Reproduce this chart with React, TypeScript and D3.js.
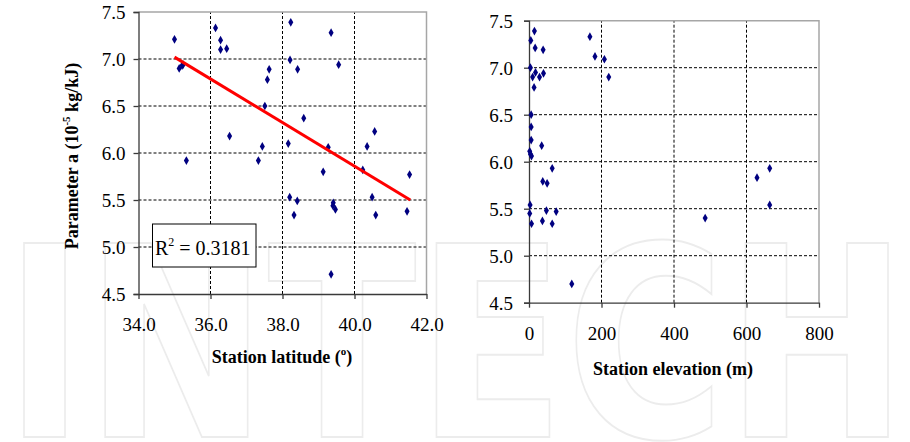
import React, { useEffect, useRef } from 'react';
import * as d3 from 'd3';

// Left panel: station latitude (deg) vs parameter a
const latitude = [
  35.0, 35.13, 35.21, 35.24, 35.33, 36.14, 36.28, 36.28, 36.45, 36.53,
  37.33, 37.44, 37.51, 37.58, 37.63, 38.16, 38.2, 38.21, 38.23, 38.32,
  38.41, 38.42, 38.59, 39.13, 39.27, 39.35, 39.35, 39.41, 39.4, 39.47,
  39.56, 40.23, 40.35, 40.49, 40.56, 40.59, 41.46, 41.53,
];
const paramLat = [
  7.21, 6.9, 6.93, 6.94, 5.92, 7.33, 7.2, 7.1, 7.11, 6.18,
  5.92, 6.07, 6.5, 6.78, 6.89, 6.1, 5.53, 6.99, 7.39, 5.34,
  5.49, 6.89, 6.37, 5.8, 6.06, 7.28, 4.71, 5.47, 5.44, 5.4,
  6.94, 5.82, 6.07, 5.53, 6.23, 5.34, 5.38, 5.77,
];
// fitted trend line (start / end)
const trendLat = [35.0, 41.55];
const trendParam = [7.02, 5.5];
const rSquared = '0.3181';

// Right panel: station elevation (m) vs parameter a
const elevation = [
  5, 15, 17, 39, 4, 18, 10, 29, 40, 14,
  6, 6, 6, 35, 2, 4, 7, 64, 38, 50,
  3, 2, 7, 37, 48, 64, 75, 118, 168, 182,
  208, 220, 486, 629, 664, 664,
];
const paramElev = [
  7.29, 7.39, 7.21, 7.19, 7.0, 6.95, 6.9, 6.9, 6.94, 6.79,
  6.5, 6.37, 6.23, 6.17, 6.11, 6.08, 6.06, 5.93, 5.79, 5.77,
  5.54, 5.45, 5.34, 5.37, 5.48, 5.34, 5.47, 4.7, 7.33, 7.12,
  7.09, 6.9, 5.4, 5.83, 5.93, 5.54,
];

const yTicks = [4.5, 5.0, 5.5, 6.0, 6.5, 7.0, 7.5];
const latTicks = [34, 36, 38, 40, 42];
const elevTicks = [0, 200, 400, 600, 800];

const W = 910;
const H = 442;
const serif = '"Liberation Serif", "Times New Roman", serif';

export default function App() {
  const ref = useRef<SVGSVGElement>(null);

  useEffect(() => {
    const svg = d3.select(ref.current);
    svg.selectAll('*').remove();

    // faint watermark
    svg
      .append('text')
      .attr('x', 4)
      .attr('y', 437)
      .attr('textLength', 904)
      .attr('lengthAdjust', 'spacingAndGlyphs')
      .style('font-family', '"DejaVu Sans", sans-serif')
      .style('font-weight', 'bold')
      .style('font-size', '266px')
      .attr('fill', 'none')
      .attr('stroke', '#ececec')
      .attr('stroke-width', 2)
      .text('INTECH');

    const drawPanel = (
      xs: number[],
      ys: number[],
      xDomain: [number, number],
      xRange: [number, number],
      yRange: [number, number],
      xTicks: number[],
      xFmt: (n: number) => string,
      yPad: number,
      xLabelOffset: number
    ) => {
      const x = d3.scaleLinear().domain(xDomain).range(xRange);
      const y = d3.scaleLinear().domain([4.5, 7.5]).range(yRange);
      const g = svg.append('g');

      // grid
      g.append('g')
        .selectAll('line')
        .data(yTicks.slice(1, -1))
        .join('line')
        .attr('x1', xRange[0])
        .attr('x2', xRange[1])
        .attr('y1', (d) => y(d))
        .attr('y2', (d) => y(d))
        .attr('stroke', '#000')
        .attr('stroke-width', 1)
        .attr('stroke-dasharray', '3,2');
      g.append('g')
        .selectAll('line')
        .data(xTicks.slice(1, -1))
        .join('line')
        .attr('x1', (d) => x(d))
        .attr('x2', (d) => x(d))
        .attr('y1', yRange[0])
        .attr('y2', yRange[1])
        .attr('stroke', '#000')
        .attr('stroke-width', 1)
        .attr('stroke-dasharray', '3,2');

      // frame top / right
      g.append('path')
        .attr('d', `M${xRange[0]},${yRange[1]}H${xRange[1]}V${yRange[0]}`)
        .attr('fill', 'none')
        .attr('stroke', '#a6a6a6')
        .attr('stroke-width', 1.5);

      // axes
      const yAxis = g
        .append('g')
        .attr('transform', `translate(${xRange[0]},0)`)
        .call(
          d3
            .axisLeft(y)
            .tickValues(yTicks)
            .tickSize(5)
            .tickPadding(yPad)
            .tickFormat(d3.format('.1f') as any)
        );
      const xAxis = g
        .append('g')
        .attr('transform', `translate(0,${yRange[0]})`)
        .call(
          d3
            .axisBottom(x)
            .tickValues(xTicks)
            .tickSize(5)
            .tickSizeOuter(0)
            .tickFormat(xFmt as any)
        );
      [yAxis, xAxis].forEach((a) => {
        a.attr('font-family', null).attr('font-size', null);
        a.select('.domain').attr('stroke', '#3a3a3a').attr('stroke-width', 1.3);
        a.selectAll('.tick line').attr('stroke', '#3a3a3a').attr('stroke-width', 1.3);
        a.selectAll('text')
          .style('font-family', serif)
          .style('font-size', '19px')
          .attr('fill', '#000');
      });
      yAxis.selectAll('text').attr('dy', '0.34em');
      xAxis.selectAll('text').attr('y', xLabelOffset).attr('dy', 0);

      // points
      g.append('g')
        .selectAll('path')
        .data(xs.map((v, i) => [v, ys[i]]))
        .join('path')
        .attr('transform', (d) => `translate(${x(d[0])},${y(d[1])})`)
        .attr('d', d3.symbol().type(d3.symbolDiamond).size(22)())
        .attr('fill', '#000080');

      return { x, y, g };
    };

    // ---- left panel ----
    const left = drawPanel(
      latitude,
      paramLat,
      [34, 42],
      [138.5, 426.5],
      [294, 12],
      latTicks,
      d3.format('.1f'),
      8,
      37
    );

    // trend line
    left.g
      .append('line')
      .attr('x1', left.x(trendLat[0]))
      .attr('y1', left.y(trendParam[0]))
      .attr('x2', left.x(trendLat[1]))
      .attr('y2', left.y(trendParam[1]))
      .attr('stroke', '#ff0000')
      .attr('stroke-width', 3);

    // R^2 box
    left.g
      .append('rect')
      .attr('x', 152.5)
      .attr('y', 224)
      .attr('width', 103.5)
      .attr('height', 43)
      .attr('fill', '#fff')
      .attr('stroke', '#000')
      .attr('stroke-width', 1);
    const r2 = left.g
      .append('text')
      .attr('x', 155)
      .attr('y', 255)
      .style('font-family', serif)
      .style('font-size', '20px');
    r2.append('tspan').text('R');
    r2.append('tspan').style('font-size', '12px').attr('dy', -9).text('2');
    r2.append('tspan').attr('dy', 9).text(' = ' + rSquared);

    // y title
    const yt = svg
      .append('text')
      .attr('transform', 'translate(78,156) rotate(-90)')
      .attr('text-anchor', 'middle')
      .style('font-family', serif)
      .style('font-weight', 'bold')
      .style('font-size', '18px');
    yt.append('tspan').text('Parameter a (10');
    yt.append('tspan').style('font-size', '11px').attr('dy', -8).text('-5');
    yt.append('tspan').attr('dy', 8).text(' kg/kJ)');

    // x title left
    const xt = svg
      .append('text')
      .attr('x', 282)
      .attr('y', 363)
      .attr('text-anchor', 'middle')
      .style('font-family', serif)
      .style('font-weight', 'bold')
      .style('font-size', '18px');
    xt.append('tspan').text('Station latitude (');
    xt.append('tspan').style('font-size', '11px').attr('dy', -8).text('o');
    xt.append('tspan').attr('dy', 8).text(')');

    // ---- right panel ----
    drawPanel(
      elevation,
      paramElev,
      [0, 800],
      [529, 819],
      [302.7, 20.7],
      elevTicks,
      d3.format('d'),
      11,
      37
    );

    svg
      .append('text')
      .attr('x', 673)
      .attr('y', 375)
      .attr('text-anchor', 'middle')
      .style('font-family', serif)
      .style('font-weight', 'bold')
      .style('font-size', '18px')
      .text('Station elevation (m)');
  }, []);

  return (
    <svg
      ref={ref}
      width={W}
      height={H}
      style={{ position: 'absolute', left: 0, top: 0, background: '#fff' }}
    />
  );
}
